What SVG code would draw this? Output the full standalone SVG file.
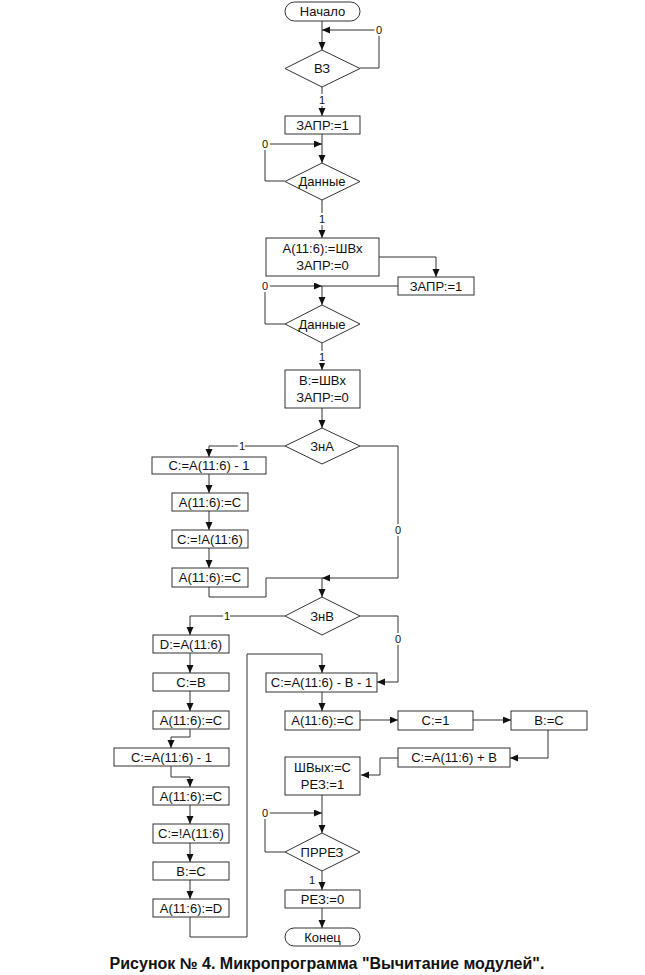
<svg xmlns="http://www.w3.org/2000/svg" width="645" height="975" viewBox="0 0 645 975">
<style>
.b{fill:#fff;stroke:#333;stroke-width:1}
.t{font-family:"Liberation Sans",Arial,sans-serif;font-size:13px;fill:#111;text-anchor:middle;dominant-baseline:central}
.l{font-family:"Liberation Sans",Arial,sans-serif;font-size:11px;fill:#111;text-anchor:middle;dominant-baseline:central;stroke:#fff;stroke-width:4;paint-order:stroke}
.c{fill:none;stroke:#333;stroke-width:1}
.cap{font-family:"Liberation Sans",Arial,sans-serif;font-size:16px;font-weight:bold;fill:#111;text-anchor:middle}
</style>
<defs>
<marker id="a" markerUnits="userSpaceOnUse" markerWidth="9" markerHeight="8" refX="8" refY="3.5" orient="auto"><path d="M0,0 L8,3.5 L0,7 z" fill="#111"/></marker>
</defs>
<g id="connectors" class="c" marker-end="url(#a)">
<path d="M322,21 V50"/>
<path d="M360,68 H379 V30 H322"/>
<path d="M322,87 V116"/>
<path d="M322,134 V163"/>
<path d="M285,181 H265 V144 H322"/>
<path d="M322,200 V238"/>
<path d="M379,257 H436 V277"/>
<path d="M398,286 H322 V305"/>
<path d="M285,324 H265 V286 H322"/>
<path d="M322,343 V370"/>
<path d="M322,408 V428"/>
<path d="M285,446 H209 V457"/>
<path d="M209,474 V493"/>
<path d="M209,511 V530"/>
<path d="M209,548 V568"/>
<path d="M209,587 V597 H266 V578 H322" marker-end="none"/>
<path d="M360,446 H398 V578 H322"/>
<path d="M322,578 V597"/>
<path d="M285,616 H190 V635"/>
<path d="M190,653 V673"/>
<path d="M190,691 V711"/>
<path d="M190,729 V737 H171 V748"/>
<path d="M171,766 V777 H190 V787"/>
<path d="M190,805 V824"/>
<path d="M190,843 V862"/>
<path d="M190,880 V899"/>
<path d="M190,917 V937 H247 V654 H322 V673"/>
<path d="M360,616 H398 V682 H377"/>
<path d="M322,692 V711"/>
<path d="M360,720 H398"/>
<path d="M473,720 H511"/>
<path d="M548,730 V758 H510"/>
<path d="M398,758 H380 V775 H361"/>
<path d="M322,795 V833"/>
<path d="M285,852 H265 V813 H322"/>
<path d="M322,871 V890"/>
<path d="M322,908 V928"/>
</g>
<g id="labels">
<text class="l" x="379" y="30">0</text>
<text class="l" x="322" y="100">1</text>
<text class="l" x="265" y="144">0</text>
<text class="l" x="322" y="219">1</text>
<text class="l" x="265" y="286">0</text>
<text class="l" x="322" y="357">1</text>
<text class="l" x="242" y="446">1</text>
<text class="l" x="398" y="530">0</text>
<text class="l" x="227" y="616">1</text>
<text class="l" x="398" y="639">0</text>
<text class="l" x="265" y="813">0</text>
<text class="l" x="312" y="880">1</text>
</g>
<g id="start"><rect class="b" x="285" y="2" width="75" height="19" rx="9.5"/><text class="t" x="322.5" y="11.5">Начало</text></g>
<g id="vz"><polygon class="b" points="322,50 360,68.5 322,87 285,68.5"/><text class="t" x="322" y="68.5">ВЗ</text></g>
<g id="zapr1"><rect class="b" x="285" y="116" width="75" height="18"/><text class="t" x="322.5" y="125">ЗАПР:=1</text></g>
<g id="dannye1"><polygon class="b" points="322,163 360,181.5 322,200 285,181.5"/><text class="t" x="322" y="181.5">Данные</text></g>
<g id="a_shvx"><rect class="b" x="266" y="238" width="113" height="38"/><text class="t" x="322.5" y="248.5">A(11:6):=ШВх</text><text class="t" x="322.5" y="265.5">ЗАПР:=0</text></g>
<g id="zapr1b"><rect class="b" x="398" y="277" width="76" height="18"/><text class="t" x="436" y="286">ЗАПР:=1</text></g>
<g id="dannye2"><polygon class="b" points="322,305 360,324 322,343 285,324"/><text class="t" x="322" y="324">Данные</text></g>
<g id="b_shvx"><rect class="b" x="285" y="370" width="75" height="38"/><text class="t" x="322.5" y="380.5">B:=ШВх</text><text class="t" x="322.5" y="397.5">ЗАПР:=0</text></g>
<g id="zna"><polygon class="b" points="322,428 360,446 322,464 285,446"/><text class="t" x="322" y="446">ЗнА</text></g>
<g id="c_a_1"><rect class="b" x="152" y="457" width="114" height="17"/><text class="t" x="209" y="465.5">C:=A(11:6) - 1</text></g>
<g id="a_c1"><rect class="b" x="172" y="493" width="76" height="18"/><text class="t" x="210" y="502">A(11:6):=C</text></g>
<g id="c_nota1"><rect class="b" x="172" y="530" width="76" height="18"/><text class="t" x="210" y="539">C:=!A(11:6)</text></g>
<g id="a_c2"><rect class="b" x="172" y="568" width="76" height="19"/><text class="t" x="210" y="577.5">A(11:6):=C</text></g>
<g id="znb"><polygon class="b" points="322,597 360,616 322,635 285,616"/><text class="t" x="322" y="616">ЗнВ</text></g>
<g id="d_a"><rect class="b" x="153" y="635" width="76" height="18"/><text class="t" x="191" y="644">D:=A(11:6)</text></g>
<g id="c_b"><rect class="b" x="153" y="673" width="76" height="18"/><text class="t" x="191" y="682">C:=B</text></g>
<g id="a_c3"><rect class="b" x="153" y="711" width="76" height="18"/><text class="t" x="191" y="720">A(11:6):=C</text></g>
<g id="c_a_1b"><rect class="b" x="114" y="748" width="115" height="18"/><text class="t" x="171.5" y="757">C:=A(11:6) - 1</text></g>
<g id="a_c4"><rect class="b" x="153" y="787" width="76" height="18"/><text class="t" x="191" y="796">A(11:6):=C</text></g>
<g id="c_nota2"><rect class="b" x="153" y="824" width="76" height="19"/><text class="t" x="191" y="833.5">C:=!A(11:6)</text></g>
<g id="b_c1"><rect class="b" x="153" y="862" width="76" height="18"/><text class="t" x="191" y="871">B:=C</text></g>
<g id="a_d"><rect class="b" x="153" y="899" width="76" height="18"/><text class="t" x="191" y="908">A(11:6):=D</text></g>
<g id="c_a_b_1"><rect class="b" x="266" y="673" width="111" height="19"/><text class="t" x="321.5" y="682.5">C:=A(11:6) - B - 1</text></g>
<g id="a_c5"><rect class="b" x="285" y="711" width="75" height="19"/><text class="t" x="322.5" y="720.5">A(11:6):=C</text></g>
<g id="c_1"><rect class="b" x="398" y="711" width="75" height="19"/><text class="t" x="435.5" y="720.5">C:=1</text></g>
<g id="b_c2"><rect class="b" x="511" y="711" width="76" height="19"/><text class="t" x="549" y="720.5">B:=C</text></g>
<g id="c_a_plus_b"><rect class="b" x="398" y="748" width="112" height="19"/><text class="t" x="454" y="757.5">C:=A(11:6) + B</text></g>
<g id="shvyx"><rect class="b" x="285" y="757" width="75" height="38"/><text class="t" x="322.5" y="767.5">ШВых:=C</text><text class="t" x="322.5" y="784.5">РЕЗ:=1</text></g>
<g id="prrez"><polygon class="b" points="322,833 360,852 322,871 285,852"/><text class="t" x="322" y="852">ПРРЕЗ</text></g>
<g id="rez0"><rect class="b" x="285" y="890" width="75" height="18"/><text class="t" x="322.5" y="899">РЕЗ:=0</text></g>
<g id="end"><rect class="b" x="285" y="928" width="75" height="18" rx="9"/><text class="t" x="322.5" y="937">Конец</text></g>
<text class="cap" x="327" y="969">Рисунок № 4. Микропрограмма "Вычитание модулей".</text>
</svg>
